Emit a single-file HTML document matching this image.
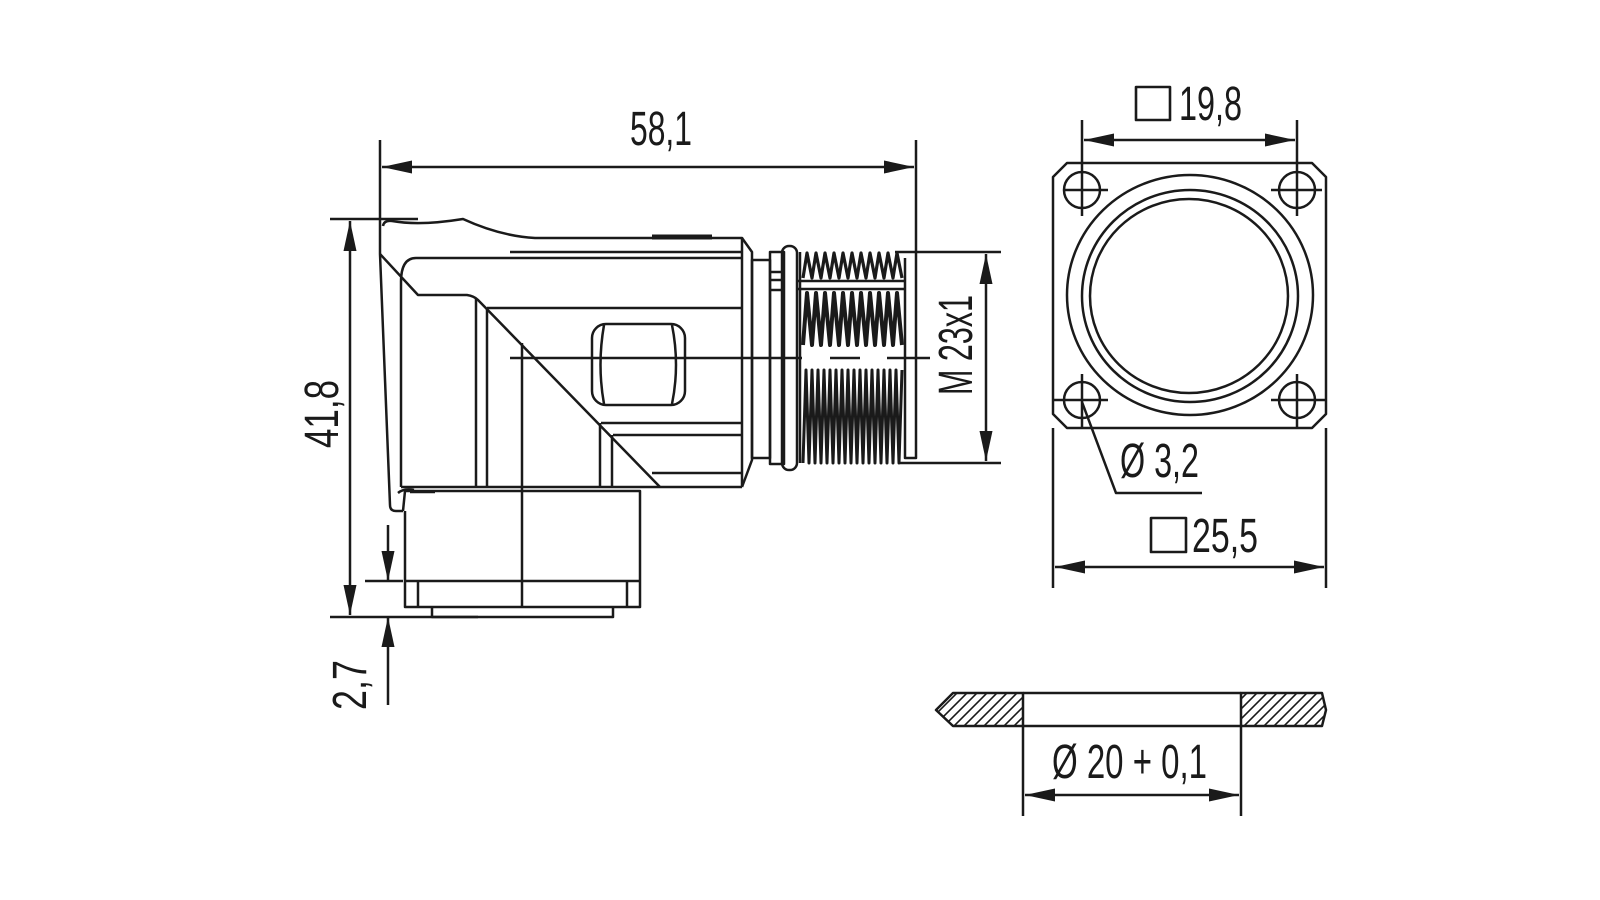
<!DOCTYPE html>
<html><head><meta charset="utf-8"><style>
html,body{margin:0;padding:0;background:#fff;}
svg{display:block;}
text{font-family:"Liberation Sans",sans-serif;fill:#1a1a1a;}
</style></head><body>
<svg width="1600" height="900" viewBox="0 0 1600 900" xmlns="http://www.w3.org/2000/svg">
<defs>
<marker id="a" viewBox="0 0 30 13" refX="30" refY="6.5" markerWidth="30" markerHeight="13" markerUnits="userSpaceOnUse" orient="auto-start-reverse"><path d="M0,0 L30,6.5 L0,13 Z" fill="#1a1a1a"/></marker>
<clipPath id="hl"><path d="M953,693 L1023,693 L1023,726 L953,726 L936,710 Z"/></clipPath>
<clipPath id="hr"><path d="M1241,693 L1322,693 L1326,710 L1322,726 L1241,726 Z"/></clipPath>
<pattern id="hp" width="10" height="10" patternUnits="userSpaceOnUse"><path d="M-2,12 L12,-2 M-2,2 L2,-2 M8,12 L12,8" stroke="#1a1a1a" stroke-width="1.6"/></pattern>
</defs>
<g fill="none" stroke="#1a1a1a" stroke-width="2.5" stroke-linejoin="round">
<line x1="380" y1="140" x2="380" y2="222"/>
<line x1="916" y1="140" x2="916" y2="252"/>
<line x1="382" y1="167" x2="914" y2="167" marker-start="url(#a)" marker-end="url(#a)"/>
<line x1="330" y1="219" x2="418" y2="219"/>
<line x1="330" y1="617" x2="478" y2="617"/>
<line x1="350" y1="221" x2="350" y2="615" marker-start="url(#a)" marker-end="url(#a)"/>
<line x1="365" y1="581" x2="403" y2="581"/>
<line x1="388" y1="525" x2="388" y2="581" marker-end="url(#a)"/>
<line x1="388" y1="705" x2="388" y2="617" marker-end="url(#a)"/>
<path d="M383,226 Q384,220 392,221 Q420,226 463,219 Q500,236 535,238 L742,238 L742,487"/>
<line x1="652" y1="237" x2="712" y2="237" stroke-width="5"/>
<line x1="510" y1="252" x2="742" y2="252"/>
<path d="M742,238 L752,252 L752,460 L742,487"/>
<path d="M401,282 Q401,258 416,258 L742,258"/>
<line x1="401" y1="282" x2="401" y2="487"/>
<path d="M380,222 L380,254 Q386,400 390,505 Q390,511 396,511 L403,511"/>
<path d="M380,254 L418,295 L467,295 Q474,296 478,300 L660,487"/>
<line x1="476" y1="298" x2="476" y2="487"/>
<line x1="487" y1="308" x2="487" y2="487"/>
<line x1="487" y1="308" x2="742" y2="308"/>
<line x1="601" y1="423" x2="742" y2="423"/>
<line x1="613" y1="435" x2="742" y2="435"/>
<line x1="600" y1="423" x2="600" y2="487"/>
<line x1="612" y1="435" x2="612" y2="487"/>
<line x1="652" y1="473" x2="742" y2="473"/>
<line x1="401" y1="487" x2="742" y2="487"/>
<rect x="592" y="324" width="93" height="81" rx="14"/>
<path d="M604,325 Q597,365 604,404 M672,325 Q680,365 672,404"/>
<line x1="510" y1="358" x2="802" y2="358"/>
<line x1="830" y1="358" x2="860" y2="358"/>
<line x1="887" y1="358" x2="930" y2="358"/>
<line x1="522" y1="343" x2="522" y2="607"/>
<rect x="752" y="260" width="18" height="198"/>
<rect x="770" y="252" width="14" height="212"/>
<rect x="782" y="246" width="15" height="224" rx="7"/>
<line x1="770" y1="272" x2="784" y2="272"/><line x1="770" y1="280" x2="784" y2="280"/><line x1="770" y1="290" x2="784" y2="290"/>
<line x1="797" y1="281" x2="905" y2="281"/>
<line x1="797" y1="289" x2="905" y2="289"/>
<line x1="800" y1="252" x2="800" y2="463"/>
<polyline stroke-width="3.2" points="803,278 807,253 812,278 816,253 821,278 825,253 830,278 834,253 839,278 843,253 848,278 852,253 857,278 861,253 866,278 870,253 875,278 879,253 884,278 888,253 893,278 897,253 902,278"/>
<polyline stroke-width="4" points="803,345 807,293 812,345 816,293 821,345 825,293 830,345 834,293 839,345 843,293 848,345 852,293 857,345 861,293 866,345 870,293 875,345 879,293 884,345 888,293 893,345 897,293 902,345"/>
<polyline stroke-width="3" points="803,463 806,370 809,463 812,370 815,463 818,370 821,463 824,370 827,463 830,370 833,463 836,370 839,463 842,370 845,463 848,370 851,463 854,370 857,463 860,370 863,463 866,370 869,463 872,370 875,463 878,370 881,463 884,370 887,463 890,370 893,463 896,370 899,463 902,370"/>
<path d="M905,258 L905,458 L916,458 L916,252"/>
<line x1="895" y1="252" x2="1001" y2="252"/>
<line x1="900" y1="463" x2="1001" y2="463"/>
<line x1="986" y1="254" x2="986" y2="461" marker-start="url(#a)" marker-end="url(#a)"/>
<path d="M403,511 L405,491 L640,491 L640,607 L405,607 L405,511"/>
<path d="M398,493 Q404,488 414,490 M410,492 L435,492"/>
<line x1="405" y1="581" x2="640" y2="581"/>
<line x1="418" y1="581" x2="418" y2="607"/>
<line x1="627" y1="581" x2="627" y2="607"/>
<path d="M432,607 L432,617 L613,617 L613,607"/>
<path d="M1067,163 L1312,163 L1326,177 L1326,414 L1312,428 L1067,428 L1053,414 L1053,177 Z"/>
<line x1="1082" y1="120" x2="1082" y2="216"/>
<line x1="1297" y1="120" x2="1297" y2="216"/>
<line x1="1084" y1="140" x2="1295" y2="140" marker-start="url(#a)" marker-end="url(#a)"/>
<circle cx="1082" cy="190" r="18"/><line x1="1063" y1="190" x2="1108" y2="190"/>
<circle cx="1297" cy="190" r="18"/><line x1="1271" y1="190" x2="1322" y2="190"/>
<circle cx="1082" cy="400" r="18"/><line x1="1053" y1="400" x2="1108" y2="400"/><line x1="1082" y1="374" x2="1082" y2="428"/>
<circle cx="1297" cy="400" r="18"/><line x1="1271" y1="400" x2="1326" y2="400"/><line x1="1297" y1="374" x2="1297" y2="428"/>
<ellipse cx="1190" cy="295" rx="123" ry="120"/>
<ellipse cx="1190" cy="296" rx="108" ry="106"/>
<ellipse cx="1189" cy="296" rx="99" ry="97"/>
<path d="M1082,402 L1116,493 L1202,493"/>
<line x1="1053" y1="428" x2="1053" y2="588"/>
<line x1="1326" y1="428" x2="1326" y2="588"/>
<line x1="1055" y1="567" x2="1324" y2="567" marker-start="url(#a)" marker-end="url(#a)"/>
<rect x="1136" y="87" width="34" height="33" stroke-width="2.6"/>
<rect x="1151" y="518" width="35" height="34" stroke-width="2.6"/>
<rect x="930" y="688" width="400" height="45" fill="url(#hp)" stroke="none" clip-path="url(#hl)"/>
<rect x="930" y="688" width="400" height="45" fill="url(#hp)" stroke="none" clip-path="url(#hr)"/>
<path d="M1023,693 L953,693 L936,710 L953,726 L1023,726 Z"/>
<path d="M1241,693 L1322,693 L1326,710 L1322,726 L1241,726 Z"/>
<line x1="1023" y1="693" x2="1241" y2="693"/>
<line x1="1023" y1="726" x2="1241" y2="726"/>
<line x1="1023" y1="726" x2="1023" y2="816"/>
<line x1="1241" y1="726" x2="1241" y2="816"/>
<line x1="1025" y1="795" x2="1239" y2="795" marker-start="url(#a)" marker-end="url(#a)"/>
</g>
<g font-size="48">
<text x="630" y="145" textLength="62" lengthAdjust="spacingAndGlyphs">58,1</text>
<text x="1179" y="120" textLength="63" lengthAdjust="spacingAndGlyphs">19,8</text>
<text x="1192" y="552" textLength="66" lengthAdjust="spacingAndGlyphs">25,5</text>
<text x="1120" y="477" textLength="79" lengthAdjust="spacingAndGlyphs">Ø 3,2</text>
<text x="1052" y="778" textLength="155" lengthAdjust="spacingAndGlyphs">Ø 20 + 0,1</text>
<text transform="translate(338,448) rotate(-90)" textLength="68" lengthAdjust="spacingAndGlyphs">41,8</text>
<text transform="translate(366,710) rotate(-90)" textLength="50" lengthAdjust="spacingAndGlyphs">2,7</text>
<text transform="translate(972,395) rotate(-90)" textLength="100" lengthAdjust="spacingAndGlyphs">M 23x1</text>
</g>
</svg>
</body></html>
